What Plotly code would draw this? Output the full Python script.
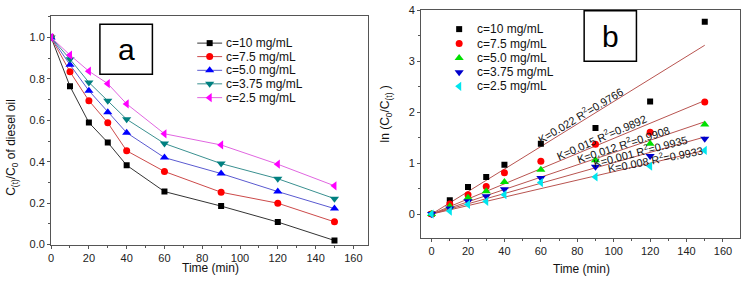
import numpy as np
import plotly.graph_objects as go

W, H = 746, 285

# ---------------- data ----------------
time_min = [0, 10, 20, 30, 40, 60, 90, 120, 150]
series_names = ["c=10 mg/mL", "c=7.5 mg/mL", "c=5.0 mg/mL", "c=3.75 mg/mL", "c=2.5 mg/mL"]

ratio_c10 = [1.0, 0.764, 0.589, 0.493, 0.383, 0.256, 0.186, 0.109, 0.02]
ratio_c75 = [1.0, 0.834, 0.695, 0.588, 0.453, 0.353, 0.253, 0.200, 0.110]
ratio_c50 = [1.0, 0.868, 0.743, 0.639, 0.540, 0.420, 0.343, 0.256, 0.174]
ratio_c375 = [1.0, 0.895, 0.783, 0.695, 0.605, 0.488, 0.391, 0.318, 0.222]
ratio_c25 = [1.0, 0.915, 0.837, 0.777, 0.679, 0.535, 0.481, 0.388, 0.284]

ln_c10 = [0, 0.27, 0.53, 0.73, 0.97, 1.38, 1.69, 2.21, 3.78]
ln_c75 = [0, 0.20, 0.38, 0.54, 0.81, 1.04, 1.37, 1.61, 2.20]
ln_c50 = [0, 0.15, 0.32, 0.45, 0.63, 0.87, 1.06, 1.38, 1.76]
ln_c375 = [0, 0.11, 0.25, 0.35, 0.49, 0.71, 0.93, 1.14, 1.48]
ln_c25 = [0, 0.06, 0.19, 0.25, 0.38, 0.62, 0.73, 0.94, 1.25]

fit_labels = ["K=0.022 R<sup>2</sup>=0.9766", "K=0.015 R<sup>2</sup>=0.9892",
              "K=0.012 R<sup>2</sup>=0.9908", "K=0.001 R<sup>2</sup>=0.9935",
              "K=0.008 R<sup>2</sup>=0.9933"]
fit_label_x = [81.8, 93.1, 105.4, 114.7, 123.2]
fit_label_y = [1.947, 1.52, 1.369, 1.236, 1.075]
fit_label_angle = [-31, -23.5, -18, -14.5, -11]

ratios = [ratio_c10, ratio_c75, ratio_c50, ratio_c375, ratio_c25]
lns = [ln_c10, ln_c75, ln_c50, ln_c375, ln_c25]

# ---------------- styles ----------------
a_line_colors = ["#333333", "#cc4a4a", "#5a5ad0", "#3a9090", "#e066e0"]
a_marker_colors = ["#000000", "#ff0000", "#0000ff", "#008080", "#ff00ff"]
a_symbols = ["square", "circle", "triangle-up", "triangle-down", "triangle-left"]
a_sizes = [6, 7, 8, 8, 8]
b_colors = ["#000000", "#ff0000", "#00e000", "#0000cc", "#00e5ee"]
b_sizes = [6, 7, 8, 8, 8]
fit_color = "#b85450"

FONT = "Arial, Liberation Sans, sans-serif"
axis_col = "#555555"

fig = go.Figure()

# Panel a
for i in range(5):
    fig.add_trace(go.Scatter(
        x=time_min, y=ratios[i], mode="lines+markers", showlegend=False,
        line=dict(color=a_line_colors[i], width=1),
        marker=dict(symbol=a_symbols[i], size=a_sizes[i], color=a_marker_colors[i]),
        xaxis="x", yaxis="y"))

# Panel b fitted lines (least squares through origin)
tx = np.array(time_min, dtype=float)
for i in range(5):
    yv = np.array(lns[i])
    k = float((tx * yv).sum() / (tx * tx).sum())
    xs = [float(tx.min()), float(tx.max())]
    fig.add_trace(go.Scatter(
        x=xs, y=[k * v for v in xs], mode="lines", showlegend=False,
        line=dict(color=fit_color, width=1), xaxis="x2", yaxis="y2"))
for i in range(5):
    fig.add_trace(go.Scatter(
        x=time_min, y=lns[i], mode="markers", showlegend=False,
        marker=dict(symbol=a_symbols[i], size=b_sizes[i], color=b_colors[i]),
        xaxis="x2", yaxis="y2"))

# Legends drawn on a pixel overlay axis
leg_a_rows = [39.5, 53.5, 67.7, 81.7, 96.0]
leg_b_rows = [25.0, 40.0, 55.0, 69.7, 84.3]
annotations = []
for i in range(5):
    ya = leg_a_rows[i]
    fig.add_trace(go.Scatter(
        x=[195, 220], y=[ya, ya], mode="lines", showlegend=False,
        line=dict(color=a_line_colors[i], width=1), xaxis="x3", yaxis="y3",
        hoverinfo="skip"))
    fig.add_trace(go.Scatter(
        x=[207.5], y=[ya], mode="markers", showlegend=False,
        marker=dict(symbol=a_symbols[i], size=a_sizes[i], color=a_marker_colors[i]),
        xaxis="x3", yaxis="y3", hoverinfo="skip"))
    annotations.append(dict(x=222, y=ya, xref="x3", yref="y3", text=series_names[i],
                            showarrow=False, xanchor="left", yanchor="middle",
                            font=dict(size=12, color="#111", family=FONT)))
    yb = leg_b_rows[i]
    fig.add_trace(go.Scatter(
        x=[458], y=[yb], mode="markers", showlegend=False,
        marker=dict(symbol=a_symbols[i], size=b_sizes[i], color=b_colors[i]),
        xaxis="x3", yaxis="y3", hoverinfo="skip"))
    annotations.append(dict(x=473.5, y=yb, xref="x3", yref="y3", text=series_names[i],
                            showarrow=False, xanchor="left", yanchor="middle",
                            font=dict(size=12, color="#111", family=FONT)))

# fit labels
for i in range(5):
    annotations.append(dict(x=fit_label_x[i], y=fit_label_y[i], xref="x2", yref="y2",
                            text=fit_labels[i], showarrow=False, textangle=fit_label_angle[i],
                            font=dict(size=11, color="#111", family=FONT)))

# panel letters
annotations.append(dict(x=123.7, y=46, xref="x3", yref="y3", text="a", showarrow=False,
                        font=dict(size=30, color="#000", family=FONT)))
annotations.append(dict(x=610, y=32.5, xref="x3", yref="y3", text="b", showarrow=False,
                        font=dict(size=30, color="#000", family=FONT)))

# axis titles
annotations.append(dict(x=208, y=273, xref="x3", yref="y3", text="Time (min)", showarrow=False,
                        font=dict(size=12, color="#111", family=FONT)))
annotations.append(dict(x=9, y=147, xref="x3", yref="y3",
                        text="C<sub>(t)</sub>/C<sub>0</sub> of diesel oil", showarrow=False,
                        textangle=-90, font=dict(size=12, color="#111", family=FONT)))
annotations.append(dict(x=581, y=274, xref="x3", yref="y3", text="Time (min)", showarrow=False,
                        font=dict(size=12, color="#111", family=FONT)))
annotations.append(dict(x=385, y=113, xref="x3", yref="y3",
                        text="ln (C<sub>0</sub>/C<sub>(t)</sub> )", showarrow=False,
                        textangle=-90, font=dict(size=12, color="#111", family=FONT)))

shapes = [
    dict(type="rect", xref="x3", yref="y3", x0=97.3, x1=150, y0=20, y1=71.7,
         line=dict(color="#000", width=1.5)),
    dict(type="rect", xref="x3", yref="y3", x0=583.5, x1=636, y0=6, y1=58.3,
         line=dict(color="#000", width=1.5)),
]

def ax(domain, rng, dtick, minor_dtick, anchor, tickformat=None):
    d = dict(domain=domain, range=rng, dtick=dtick, tick0=0, anchor=anchor,
             showline=True, linecolor=axis_col, linewidth=1, mirror=True,
             ticks="outside", ticklen=3, tickwidth=1, tickcolor=axis_col,
             showgrid=False, zeroline=False, ticklabeloverflow="allow",
             tickfont=dict(size=11, color="#222", family=FONT),
             minor=dict(ticks="outside", ticklen=2, dtick=minor_dtick, tick0=0,
                        tickcolor=axis_col, showgrid=False))
    if tickformat:
        d["tickformat"] = tickformat
    return d

fig.update_layout(
    width=W, height=H, margin=dict(l=0, r=0, t=0, b=0),
    paper_bgcolor="white", plot_bgcolor="rgba(0,0,0,0)",
    font=dict(family=FONT),
    xaxis=ax([48.3 / W, 366 / W], [0, 167.5], 20, 10, "y"),
    yaxis=ax([1 - 249 / H, 1 - 11.7 / H], [-0.003, 1.102], 0.2, 0.1, "x", ".1f"),
    xaxis2=ax([419.7 / W, 739.7 / W], [-5.8, 169.2], 20, 10, "y2"),
    yaxis2=ax([1 - 241.7 / H, 1 - 5 / H], [-0.474, 4.013], 1, 0.5, "x2"),
    xaxis3=dict(domain=[0, 1], range=[0, W], visible=False, anchor="y3", fixedrange=True),
    yaxis3=dict(domain=[0, 1], range=[H, 0], visible=False, anchor="x3", fixedrange=True),
    annotations=annotations, shapes=shapes, showlegend=False,
)

fig.write_html("out.html", config={"displayModeBar": False},
               post_script="document.body.style.margin='0px';document.body.style.overflow='hidden';")
